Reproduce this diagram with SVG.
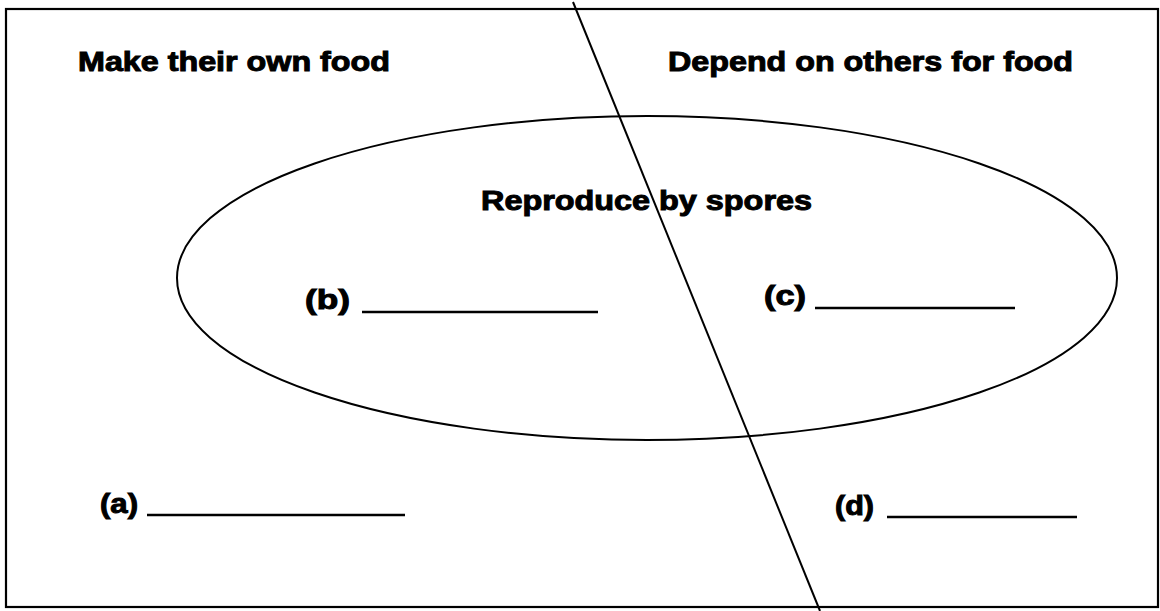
<svg xmlns="http://www.w3.org/2000/svg" width="1160" height="611" viewBox="0 0 1160 611">
<style>
.t{font-family:"Liberation Sans",Arial,sans-serif;font-weight:bold;font-size:27px;fill:#000;stroke:#000;stroke-width:1px}
.ln{stroke:#000;stroke-width:2.5;fill:none}
</style>
<rect x="0" y="0" width="1160" height="611" fill="#fff"/>
<g id="frame"><rect x="6" y="9" width="1152" height="598" fill="none" stroke="#000" stroke-width="2.2"/></g>
<g id="connectors">
<line x1="573" y1="2" x2="820" y2="611" stroke="#000" stroke-width="2"/>
</g>
<g id="ellipse"><ellipse cx="647" cy="278" rx="470" ry="162" fill="none" stroke="#000" stroke-width="2"/></g>
<g id="left-title"><text class="t" x="78" y="71" textLength="312" lengthAdjust="spacingAndGlyphs">Make their own food</text></g>
<g id="right-title"><text class="t" x="668" y="71" textLength="405" lengthAdjust="spacingAndGlyphs">Depend on others for food</text></g>
<g id="middle-title"><text class="t" x="481" y="210" textLength="331" lengthAdjust="spacingAndGlyphs">Reproduce by spores</text></g>
<g id="b"><text class="t" x="305" y="309" textLength="45" lengthAdjust="spacingAndGlyphs">(b)</text><line class="ln" x1="362" y1="312" x2="598" y2="312"/></g>
<g id="c"><text class="t" x="764" y="305" textLength="42" lengthAdjust="spacingAndGlyphs">(c)</text><line class="ln" x1="815" y1="308" x2="1015" y2="308"/></g>
<g id="a"><text class="t" x="100" y="513" textLength="38" lengthAdjust="spacingAndGlyphs">(a)</text><line class="ln" x1="147" y1="515" x2="405" y2="515"/></g>
<g id="d"><text class="t" x="835" y="515" textLength="39" lengthAdjust="spacingAndGlyphs">(d)</text><line class="ln" x1="887" y1="517" x2="1077" y2="517"/></g>
</svg>
